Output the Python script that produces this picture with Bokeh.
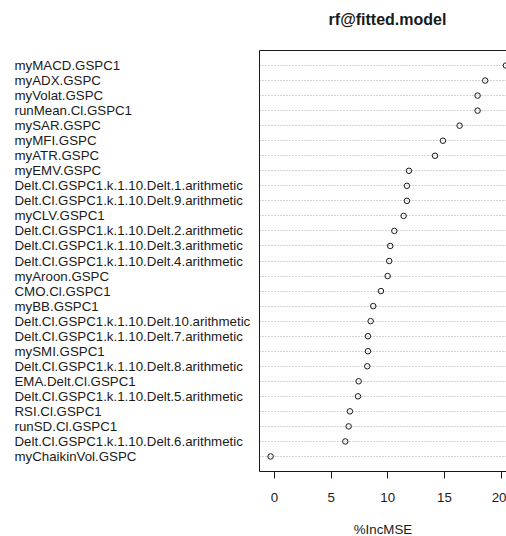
from bokeh.plotting import figure
from bokeh.models import ColumnDataSource, LinearAxis, FixedTicker, Range1d
from bokeh.core.properties import value
from bokeh.layouts import row, column
from bokeh.embed import file_html
from bokeh.resources import INLINE

title_text = "rf@fitted.model"
x_label = "%IncMSE"

variables = [
    "myMACD.GSPC1", "myADX.GSPC", "myVolat.GSPC", "runMean.Cl.GSPC1", "mySAR.GSPC",
    "myMFI.GSPC", "myATR.GSPC", "myEMV.GSPC",
    "Delt.Cl.GSPC1.k.1.10.Delt.1.arithmetic", "Delt.Cl.GSPC1.k.1.10.Delt.9.arithmetic",
    "myCLV.GSPC1",
    "Delt.Cl.GSPC1.k.1.10.Delt.2.arithmetic", "Delt.Cl.GSPC1.k.1.10.Delt.3.arithmetic",
    "Delt.Cl.GSPC1.k.1.10.Delt.4.arithmetic",
    "myAroon.GSPC", "CMO.Cl.GSPC1", "myBB.GSPC1",
    "Delt.Cl.GSPC1.k.1.10.Delt.10.arithmetic", "Delt.Cl.GSPC1.k.1.10.Delt.7.arithmetic",
    "mySMI.GSPC1", "Delt.Cl.GSPC1.k.1.10.Delt.8.arithmetic", "EMA.Delt.Cl.GSPC1",
    "Delt.Cl.GSPC1.k.1.10.Delt.5.arithmetic", "RSI.Cl.GSPC1", "runSD.Cl.GSPC1",
    "Delt.Cl.GSPC1.k.1.10.Delt.6.arithmetic", "myChaikinVol.GSPC",
]
inc_mse = [
    20.43, 18.6, 17.93, 17.93, 16.34,
    14.87, 14.17, 11.87,
    11.69, 11.69,
    11.4,
    10.58, 10.22,
    10.13,
    9.99, 9.4, 8.72,
    8.49, 8.25,
    8.25, 8.19, 7.43,
    7.37, 6.66, 6.55,
    6.25, -0.34,
]
x_ticks = [0, 5, 10, 15, 20]

n = len(variables)
ypos = [n - i for i in range(n)]
src = ColumnDataSource(dict(x=inc_mse, y=ypos, name=variables))

FONT = "Liberation Sans"
FS = "13.3px"
INK = "#1a1a1a"
TITLE_H = 40
TOP, BOTTOM, FH = 10, 65, 421
LEFT_W = 250
TOTAL_W = 506

yr = Range1d(0, n + 1)

# ---- title strip ----
tp = figure(
    output_backend="svg", toolbar_location=None,
    frame_width=TOTAL_W, frame_height=TITLE_H,
    min_border_left=0, min_border_right=0, min_border_top=0, min_border_bottom=0,
    x_range=Range1d(0, TOTAL_W), y_range=Range1d(0, TITLE_H),
    x_axis_location=None, y_axis_location=None,
)
tp.outline_line_color = None
tp.xgrid.visible = False
tp.ygrid.visible = False
tp.text(x=[387], y=[21], text=[title_text],
        text_font=value(FONT), text_font_size=value("16px"), text_font_style="bold",
        text_color=INK, text_align="center", text_baseline="middle")

# ---- label panel (left) ----
lp = figure(
    output_backend="svg", toolbar_location=None,
    frame_width=LEFT_W, frame_height=FH,
    min_border_left=0, min_border_right=0, min_border_top=TOP, min_border_bottom=BOTTOM,
    x_range=Range1d(0, LEFT_W), y_range=yr,
    x_axis_location=None, y_axis_location=None,
)
lp.outline_line_color = None
lp.xgrid.visible = False
lp.ygrid.visible = False
lp.text(x=14, y="y", text="name", source=src,
        text_font=value(FONT), text_font_size=value(FS), text_color=INK,
        text_align="left", text_baseline="middle")

# ---- dot chart ----
p = figure(
    output_backend="svg", toolbar_location=None,
    frame_width=TOTAL_W - 259, frame_height=FH,
    min_border_left=259 - LEFT_W, min_border_right=0, min_border_top=TOP, min_border_bottom=BOTTOM,
    x_range=Range1d(-1.32, 20.48), y_range=yr,
    x_axis_location=None, y_axis_location=None,
)
p.outline_line_color = None
p.background_fill_color = "white"
p.border_fill_color = "white"

p.xgrid.visible = False
p.ygrid.ticker = FixedTicker(ticks=ypos)
p.ygrid.grid_line_color = "#A8A8A8"
p.ygrid.grid_line_dash = "1 2"
p.ygrid.grid_line_width = 1

xa = LinearAxis(ticker=FixedTicker(ticks=x_ticks))
xa.axis_line_color = INK
xa.major_tick_line_color = INK
xa.major_tick_out = 7
xa.major_tick_in = 0
xa.minor_tick_line_color = None
xa.major_label_text_font = FONT
xa.major_label_text_font_size = FS
xa.major_label_text_color = INK
xa.major_label_standoff = 14
xa.axis_label = x_label
xa.axis_label_text_font = FONT
xa.axis_label_text_font_size = FS
xa.axis_label_text_font_style = "normal"
xa.axis_label_text_color = INK
xa.axis_label_standoff = 17
p.add_layout(xa, "below")

for loc in ("left", "above"):
    ax = LinearAxis(ticker=FixedTicker(ticks=[]))
    ax.axis_line_color = INK
    ax.major_tick_line_color = None
    ax.minor_tick_line_color = None
    ax.major_tick_out = 0
    ax.major_label_text_font_size = "0px"
    ax.major_label_standoff = 0
    p.add_layout(ax, loc)

p.scatter("x", "y", source=src, marker="circle", size=5.5,
          fill_color=None, line_color=INK, line_width=1)

layout = column(tp, row(lp, p, spacing=0), spacing=0)
open("out.html", "w").write(file_html(layout, INLINE))
